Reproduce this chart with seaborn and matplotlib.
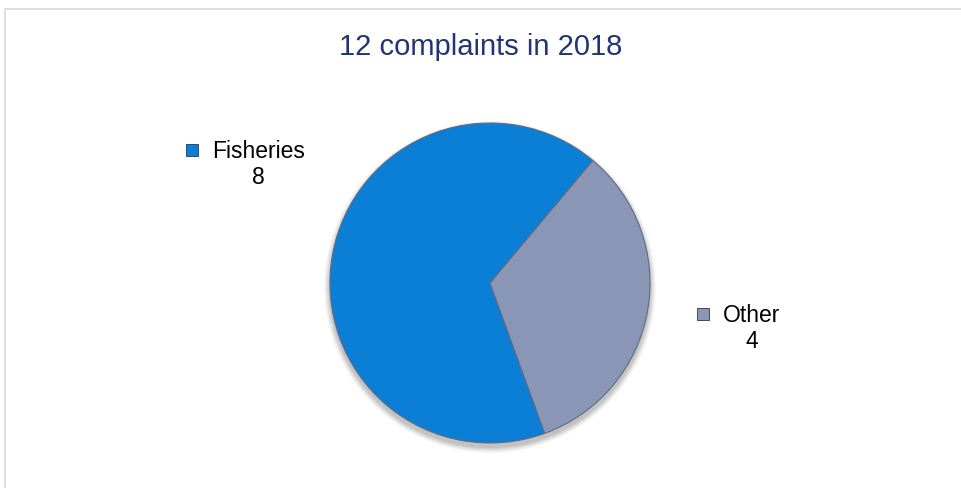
import numpy as np
import seaborn as sns
import matplotlib.pyplot as plt
from matplotlib.patches import Circle

sns.set_style("white")
plt.rcParams['font.family'] = ['Liberation Sans', 'DejaVu Sans']

categories = ["Fisheries", "Other"]
counts = [8, 4]
colors = ["#0b7fd5", "#8a96b6"]
title = "12 complaints in 2018"

fig = plt.figure(figsize=(9.61, 4.88), dpi=100)
ax = fig.add_axes([0, 0, 1, 1])

# chart frame (only top/left visible in the crop)
ax.plot([5, 5, 961], [0, 479, 479], color="#d9d9d9", lw=1.2)

cx, cy, r = 490, 205, 160

# soft shadow under the pie
for k, a in zip(range(6, 0, -1), [0.04, 0.05, 0.06, 0.07, 0.08, 0.1]):
    ax.add_patch(Circle((cx, cy - 4), r + k, color="#555555", alpha=a, lw=0, zorder=1))

wedges, _ = ax.pie(counts, colors=colors, startangle=-70, counterclock=False,
                   center=(cx, cy), radius=r, frame=True,
                   wedgeprops=dict(edgecolor="#5f6a82", linewidth=0.8))
for w in wedges:
    w.set_zorder(2)
ax.set_xlim(0, 961)
ax.set_ylim(0, 488)
ax.set_aspect("auto")
ax.axis("off")

ax.text(481, 441, title, ha="center", va="center", fontsize=21, color="#1f3576")

# data labels with legend keys
lab_pos = [(212, 337), (723, 173)]
for cat, val, col, (tx, ty) in zip(categories, counts, colors, lab_pos):
    ax.scatter([tx - 20], [ty + 1], marker="s", s=75, color=col, edgecolor="#2a3550", linewidths=0.6, zorder=3)
    t = ax.text(tx, ty, cat, ha="left", va="center", fontsize=16.5, color="black")
    fig.canvas.draw()
    bb = t.get_window_extent()
    ax.text((bb.x0 + bb.x1) / 2, ty - 26, str(val), ha="center", va="center", fontsize=16.5, color="black")

fig.savefig("out.png", dpi=100)
